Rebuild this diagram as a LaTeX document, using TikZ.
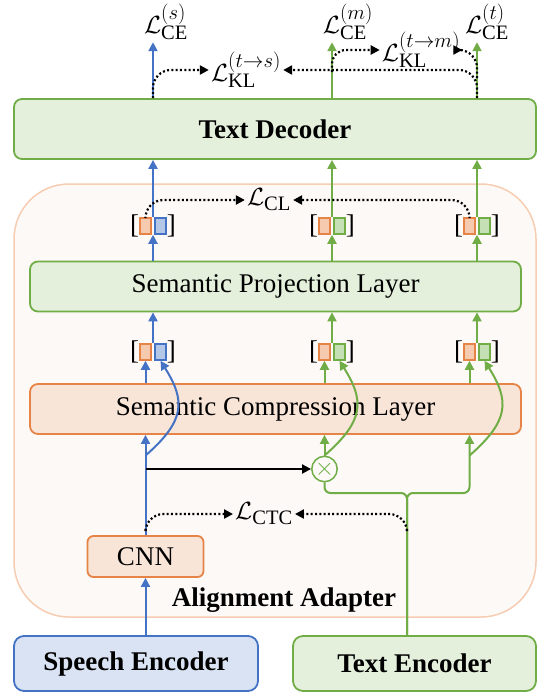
\documentclass[tikz,border=0pt]{standalone}
\usepackage{fontspec}
\setmainfont{Liberation Serif}
\usetikzlibrary{arrows.meta,positioning}
\DeclareMathSizes{27}{27}{20.5}{15}

\definecolor{blueline}{RGB}{68,114,196}
\definecolor{bluefill}{RGB}{218,227,243}
\definecolor{bluesq}{RGB}{180,199,231}
\definecolor{greenline}{RGB}{112,173,71}
\definecolor{greenfill}{RGB}{228,240,219}
\definecolor{greensq}{RGB}{197,224,180}
\definecolor{orangeline}{RGB}{230,132,72}
\definecolor{orangefill}{RGB}{249,229,215}
\definecolor{orangesq}{RGB}{245,202,175}
\definecolor{adaptline}{RGB}{246,205,178}
\definecolor{adaptfill}{RGB}{253,249,246}

% one [orange|colour] feature pair: name, x, y, colour
\newcommand{\featpair}[4]{%
  \coordinate (#1) at (#2,#3);
  \node[feat box,fill=orangesq,draw=orangeline] (#1o) at (#2-7.5,#3) {};
  \node[feat box,fill=#4sq,draw=#4line] (#1c) at (#2+7.5,#3) {};
  \node[brk,left=0pt of #1o] (#1l) {[};
  \node[brk,right=0pt of #1c] (#1r) {]};
}

\begin{document}
\begin{tikzpicture}[x=1pt,y=-1pt,
    every node/.style={font=\fontsize{27}{32}\selectfont},
    layer box/.style={draw,line width=1.8pt,rounded corners=8pt,inner sep=0pt,minimum height=50pt,minimum width=491pt},
    enc box/.style={draw,line width=1.8pt,rounded corners=10pt,inner sep=0pt,minimum height=55pt,font=\fontsize{27}{32}\selectfont\bfseries},
    feat box/.style={line width=1.5pt,minimum width=11pt,minimum height=16pt,inner sep=0pt},
    brk/.style={inner sep=0pt,font=\fontsize{27}{30}\selectfont},
    loss/.style={inner sep=2pt},
    blue arrow/.style={draw=blueline,line width=2pt,-{Triangle[length=9pt,width=9pt]}},
    green line/.style={draw=greenline,line width=2pt},
    green arrow/.style={green line,-{Triangle[length=9pt,width=9pt]}},
    loss arrow/.style={draw=black,line width=2.2pt,dash pattern=on 2pt off 2.3pt,rounded corners=18pt,-{Triangle[length=9pt,width=9pt]}}]
    \useasboundingbox (0,0) rectangle (537,693);

    \node[draw=adaptline,fill=adaptfill,line width=1.5pt,rounded corners=55pt,minimum width=522pt,minimum height=433pt] (adapter) at (275,400.5) {};
    \node[font=\fontsize{27}{32}\selectfont\bfseries] (adlabel) at (284,600) {Alignment Adapter};

    \node[layer box,draw=greenline,fill=greenfill,minimum width=522pt,minimum height=60pt,font=\fontsize{27}{32}\selectfont\bfseries] (dec) at (275,129) {Text Decoder};
    \node[layer box,draw=greenline,fill=greenfill] (proj) at (275.5,286.5) {Semantic Projection Layer};
    \node[layer box,draw=orangeline,fill=orangefill] (comp) at (275.5,409) {Semantic Compression Layer};
    \node[layer box,draw=orangeline,fill=orangefill,rounded corners=6pt,minimum width=116pt,minimum height=41pt] (cnn) at (145.5,556.5) {CNN};
    \node[enc box,draw=blueline,fill=bluefill,minimum width=244pt] (spe) at (136,663.5) {Speech Encoder};
    \node[enc box,draw=greenline,fill=greenfill,minimum width=243pt] (tenc) at (414.5,663.5) {Text Encoder};
    \node[circle,draw=greenline,fill=adaptfill,line width=1.5pt,minimum size=24pt,inner sep=0pt,text=greenline] (mul) at (324.5,469) {$\times$};

    \featpair{pb0}{153}{352}{blue}
    \featpair{pc0}{332}{352}{green}
    \featpair{pt0}{477}{352}{green}
    \featpair{pb1}{153}{226}{blue}
    \featpair{pc1}{332}{226}{green}
    \featpair{pt1}{477}{226}{green}

    \node[loss] (ces) at (166,22) {$\mathcal{L}_{\mathrm{CE}}^{(s)}$};
    \node[loss] (cem) at (348,22) {$\mathcal{L}_{\mathrm{CE}}^{(m)}$};
    \node[loss] (cet) at (487,22) {$\mathcal{L}_{\mathrm{CE}}^{(t)}$};
    \node[loss] (klts) at (246,70) {$\mathcal{L}_{\mathrm{KL}}^{(t\to s)}$};
    \node[loss] (kltm) at (421,50) {$\mathcal{L}_{\mathrm{KL}}^{(t\to m)}$};
    \node[loss] (lcl) at (269,200) {$\mathcal{L}_{\mathrm{CL}}$};
    \node[loss] (lctc) at (264,514) {$\mathcal{L}_{\mathrm{CTC}}$};

    \coordinate (tsplit) at (407,493);
    \coordinate (kmleft) at (332,72);
    \coordinate (kmright) at (477,78);
    \coordinate (ctcleft) at (145.5,529);
    \coordinate (ctcright) at (407,529);

    % speech branch
    \draw[blue arrow] (spe.north -| cnn) -- (cnn.south);
    \draw[blue arrow] (cnn.north) -- (comp.south -| cnn);
    \draw[blue arrow] (comp.north -| pb0o) -- (pb0o.south);
    \draw[blue arrow] (cnn |- mul.north) .. controls +(40,-35) and +(25,40) .. (pb0c.south);
    \draw[blue arrow] (pb0o.north -| pb0) -- (proj.south -| pb0);
    \draw[blue arrow] (proj.north -| pb1) -- (pb1o.south -| pb1);
    \draw[blue arrow] (pb1o.north -| pb1) -- (dec.south -| pb1);
    \draw[blue arrow] (dec.north -| pb1) -- (ces.south -| pb1);
    \draw[line width=2pt,-{Triangle[length=9pt,width=9pt]}] (cnn |- mul) -- (mul.west);

    % text branch
    \draw[green line,rounded corners=6pt] (tenc.north -| tsplit) |- (mul |- tsplit) -- (mul.south);
    \draw[green arrow,rounded corners=6pt] (tenc.north -| tsplit) |- (pt0o |- tsplit) -- (comp.south -| pt0o);
    \draw[green arrow] (mul.north) -- (comp.south -| mul);
    \draw[green arrow] (mul.north) .. controls +(40,-35) and +(25,40) .. (pc0c.south);
    \draw[green arrow] (pt0o |- mul.north) .. controls +(40,-35) and +(25,40) .. (pt0c.south);
    \draw[green arrow] (comp.north -| pc0o) -- (pc0o.south);
    \draw[green arrow] (comp.north -| pt0o) -- (pt0o.south);
    \draw[green arrow] (pc0o.north -| pc0) -- (proj.south -| pc0);
    \draw[green arrow] (pt0o.north -| pt0) -- (proj.south -| pt0);
    \draw[green arrow] (proj.north -| pc1) -- (pc1o.south -| pc1);
    \draw[green arrow] (proj.north -| pt1) -- (pt1o.south -| pt1);
    \draw[green arrow] (pc1o.north -| pc1) -- (dec.south -| pc1);
    \draw[green arrow] (pt1o.north -| pt1) -- (dec.south -| pt1);
    \draw[green arrow] (dec.north -| pc1) -- (cem.south -| pc1);
    \draw[green arrow] (dec.north -| pt1) -- (cet.south -| pt1);

    % losses
    \draw[loss arrow] (dec.north -| pb1) |- (klts.west);
    \draw[loss arrow] (dec.north -| pt1) |- (klts.east);
    \draw[loss arrow,rounded corners=14pt] (kmleft) |- (kltm.west);
    \draw[loss arrow] (kmright) |- (kltm.east);
    \draw[loss arrow] (pb1o.north) |- (lcl.west);
    \draw[loss arrow] (pt1o.north) |- (lcl.east);
    \draw[loss arrow] (ctcleft) |- (lctc.west);
    \draw[loss arrow] (ctcright) |- (lctc.east);
\end{tikzpicture}
\end{document}
